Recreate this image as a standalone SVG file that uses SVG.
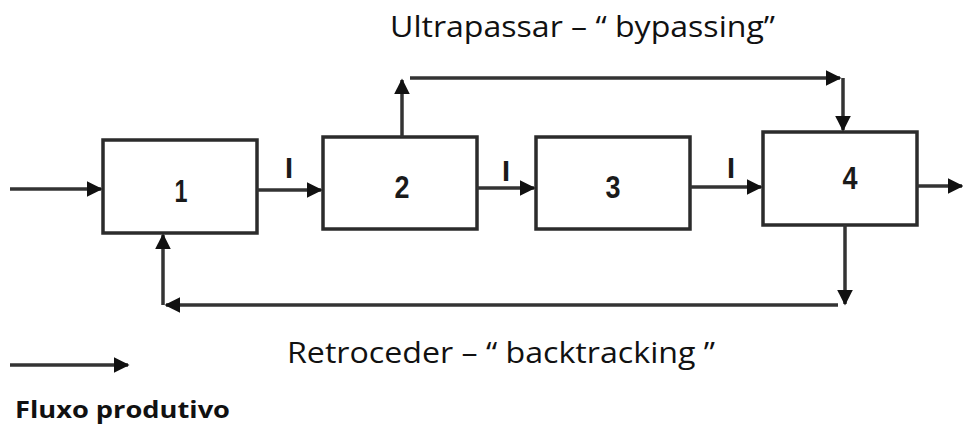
<svg xmlns="http://www.w3.org/2000/svg" width="963" height="428" viewBox="0 0 963 428">
  <style>
    .box { fill: #ffffff; stroke: #2b2b2b; stroke-width: 3.5; }
    .num { font-family: "Liberation Sans", Arial, sans-serif; font-weight: bold; font-size: 31px; fill: #1a1a1a; text-anchor: middle; }
    .tick { font-family: "Liberation Sans", Arial, sans-serif; font-weight: bold; font-size: 29px; fill: #1a1a1a; text-anchor: middle; }
    .cap { font-family: "Open Sans", "Liberation Sans", sans-serif; font-size: 30px; fill: #111111; }
    .legend { font-family: "Open Sans", "Liberation Sans", sans-serif; font-weight: bold; font-size: 24px; fill: #111111; }
    .line { fill: none; stroke: #333333; stroke-width: 3.5; }
  </style>
  <defs>
    <marker id="head" viewBox="0 0 10 10" refX="9" refY="5" markerWidth="4.5" markerHeight="4.5" orient="auto" markerUnits="strokeWidth">
      <path d="M0,0 L10,5 L0,10 Z" fill="#111111"/>
    </marker>
  </defs>

  <!-- captions -->
  <text class="cap" x="390" y="37" textLength="385" lengthAdjust="spacingAndGlyphs">Ultrapassar – “ bypassing”</text>
  <text class="cap" x="287" y="363" font-size="28" textLength="428" lengthAdjust="spacingAndGlyphs">Retroceder – “ backtracking ”</text>

  <!-- process steps -->
  <g id="node-1">
    <rect class="box" x="103" y="140" width="154" height="93"/>
    <text class="num" x="181" y="202" textLength="13" lengthAdjust="spacingAndGlyphs">1</text>
  </g>
  <g id="node-2">
    <rect class="box" x="323" y="137" width="154" height="92"/>
    <text class="num" x="402" y="198" textLength="15" lengthAdjust="spacingAndGlyphs">2</text>
  </g>
  <g id="node-3">
    <rect class="box" x="536" y="137" width="154" height="92"/>
    <text class="num" x="613" y="198" textLength="15" lengthAdjust="spacingAndGlyphs">3</text>
  </g>
  <g id="node-4">
    <rect class="box" x="763" y="132" width="154" height="93"/>
    <text class="num" x="850" y="189" font-size="29" textLength="15" lengthAdjust="spacingAndGlyphs">4</text>
  </g>

  <!-- connectors -->
  <g id="connectors">
    <line class="line" x1="10" y1="189" x2="101" y2="189" marker-end="url(#head)"/>
    <line class="line" x1="257" y1="190" x2="321" y2="190" marker-end="url(#head)"/>
    <line class="line" x1="477" y1="188" x2="534" y2="188" marker-end="url(#head)"/>
    <line class="line" x1="690" y1="187" x2="761" y2="187" marker-end="url(#head)"/>
    <line class="line" x1="917" y1="186" x2="962" y2="186" marker-end="url(#head)"/>

    <!-- bypass route: 2 over 3 into 4 -->
    <line class="line" x1="402" y1="137" x2="402" y2="80" marker-end="url(#head)"/>
    <line class="line" x1="410" y1="78" x2="840" y2="78" marker-end="url(#head)"/>
    <line class="line" x1="843" y1="78" x2="843" y2="130" marker-end="url(#head)"/>

    <!-- backtracking route: 4 back to 1 -->
    <line class="line" x1="845" y1="225" x2="845" y2="304" marker-end="url(#head)"/>
    <line class="line" x1="838" y1="305" x2="166" y2="305" marker-end="url(#head)"/>
    <line class="line" x1="163" y1="305" x2="163" y2="235" marker-end="url(#head)"/>

    <text class="tick" x="289" y="178">I</text>
    <text class="tick" x="506" y="181">I</text>
    <text class="tick" x="731" y="178">I</text>
  </g>

  <!-- legend -->
  <g id="legend">
    <line class="line" x1="10" y1="365" x2="128" y2="365" stroke-width="3" marker-end="url(#head)"/>
    <text class="legend" x="15" y="418" textLength="215" lengthAdjust="spacingAndGlyphs">Fluxo produtivo</text>
  </g>
</svg>
